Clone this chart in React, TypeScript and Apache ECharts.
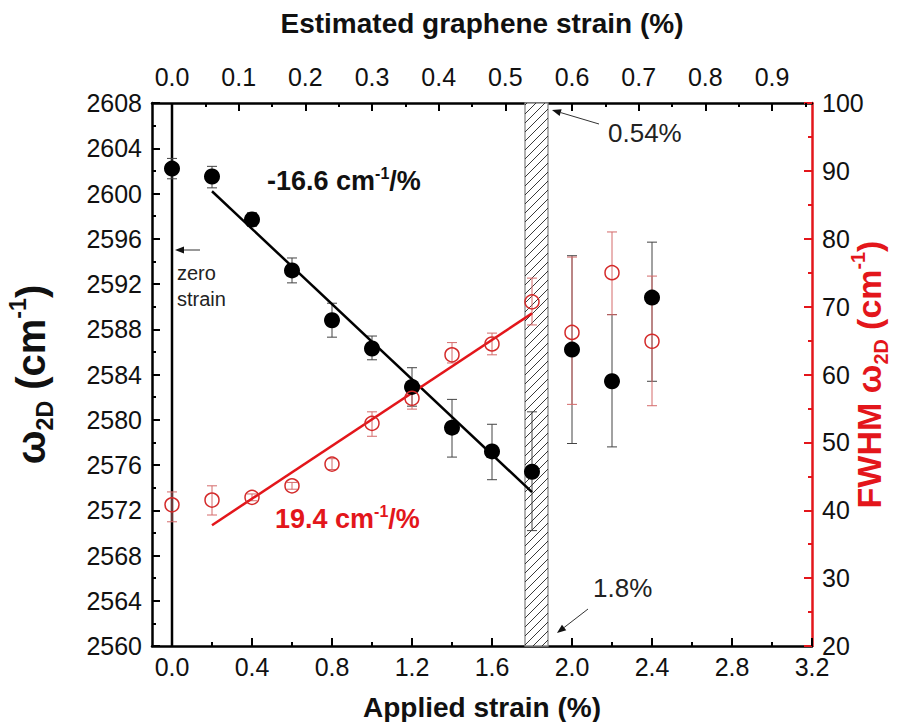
import React, { useEffect, useRef } from "react";
import * as echarts from "echarts";

// ---- data ----
const strainApplied = [0, 0.2, 0.4, 0.6, 0.8, 1.0, 1.2, 1.4, 1.6, 1.8, 2.0, 2.2, 2.4];
const omega2D = [2602.2, 2601.5, 2597.7, 2593.2, 2588.8, 2586.3, 2582.9, 2579.3, 2577.2, 2575.4, 2586.2, 2583.4, 2590.8];
const omegaLow = [2601.3, 2600.5, 2597.1, 2592.1, 2587.3, 2585.3, 2581.2, 2576.7, 2574.7, 2570.2, 2577.9, 2577.6, 2583.4];
const omegaHigh = [2603.1, 2602.4, 2598.3, 2594.3, 2590.3, 2587.4, 2584.6, 2581.8, 2579.6, 2580.7, 2594.5, 2589.3, 2595.7];
const fwhm2D = [40.8, 41.5, 41.9, 43.6, 46.8, 52.8, 56.5, 62.9, 64.5, 70.7, 66.2, 75.0, 64.9];
const fwhmLow = [38.3, 39.3, 41.4, 43.1, 46.0, 50.9, 54.9, 61.7, 62.9, 67.3, 55.6, 68.8, 55.4];
const fwhmHigh = [42.7, 43.6, 42.4, 44.1, 47.6, 54.5, 58.1, 64.7, 66.1, 74.2, 77.3, 81.0, 74.5];
const fitOmegaX = [0.2, 1.8];
const fitOmegaY = [2600.2, 2573.6];
const fitFwhmX = [0.2, 1.8];
const fitFwhmY = [37.8, 69.0];
const zeroStrainX = [0, 0];
const zeroStrainY = [2560, 2608];
const bandRange = [1.765, 1.88];

const bottomTicks = [0, 0.4, 0.8, 1.2, 1.6, 2.0, 2.4, 2.8, 3.2];
const bottomMinorTicks = [0.2, 0.6, 1.0, 1.4, 1.8, 2.2, 2.6, 3.0];
const topTicks = [0, 0.1, 0.2, 0.3, 0.4, 0.5, 0.6, 0.7, 0.8, 0.9];
const topMinorTicks = [0.05, 0.15, 0.25, 0.35, 0.45, 0.55, 0.65, 0.75, 0.85, 0.95];

const X_MIN = -0.1;
const X_MAX = 3.2;
const TOP_RATIO = 0.3;
const Y_MIN = 2560;
const Y_MAX = 2608;

const RED = "#e3161b";
const FONT = "'Liberation Sans', Arial, sans-serif";

function errorBarRenderer(color: string, cap: number) {
  return (params: any, api: any) => {
    const x = api.value(0);
    const lo = api.value(1);
    const hi = api.value(2);
    const a = api.coord([x, lo]);
    const b = api.coord([x, hi]);
    const st = { stroke: color, lineWidth: 1 };
    return {
      type: "group",
      children: [
        { type: "line", shape: { x1: a[0], y1: a[1], x2: b[0], y2: b[1] }, style: st },
        { type: "line", shape: { x1: a[0] - cap, y1: a[1], x2: a[0] + cap, y2: a[1] }, style: st },
        { type: "line", shape: { x1: b[0] - cap, y1: b[1], x2: b[0] + cap, y2: b[1] }, style: st },
      ],
    };
  };
}

function bandRenderer(params: any, api: any) {
  const x0 = api.value(0);
  const x1 = api.value(1);
  const tl = api.coord([x0, Y_MAX]);
  const br = api.coord([x1, Y_MIN]);
  const left = tl[0], top = tl[1], right = br[0], bottom = br[1];
  const w = right - left;
  const children: any[] = [
    {
      type: "rect",
      shape: { x: left, y: top, width: w, height: bottom - top },
      style: { fill: "#fff", stroke: "#8a8a8a", lineWidth: 1.3 },
    },
  ];
  const step = 9;
  for (let b = top + 2; b < bottom + w; b += step) {
    let sx = left, sy = b, ex = right, ey = b - w;
    if (sy > bottom) { sx = left + (sy - bottom); sy = bottom; }
    if (ey < top) { ex = left + (b - top); ey = top; }
    if (sx >= ex) continue;
    children.push({
      type: "line",
      shape: { x1: sx, y1: sy, x2: ex, y2: ey },
      style: { stroke: "#222", lineWidth: 0.9 },
    });
  }
  return { type: "group", children };
}

function arrow(x1: number, y1: number, x2: number, y2: number) {
  const ang = Math.atan2(y2 - y1, x2 - x1);
  const L = 9, W = 3.5;
  const bx = x2 - L * Math.cos(ang), by = y2 - L * Math.sin(ang);
  const px = -Math.sin(ang) * W, py = Math.cos(ang) * W;
  return [
    { type: "line", shape: { x1, y1, x2: bx, y2: by }, style: { stroke: "#333", lineWidth: 1 } },
    {
      type: "polygon",
      shape: { points: [[x2, y2], [bx + px, by + py], [bx - px, by - py]] },
      style: { fill: "#111" },
    },
  ];
}

export default function App() {
  const ref = useRef<HTMLDivElement>(null);
  useEffect(() => {
    if (!ref.current) return;
    const chart = echarts.init(ref.current, undefined, { renderer: "svg" });

    const tickLabel = { color: "#111", fontSize: 25, fontFamily: FONT };
    const mkRich = (size: number, color: string) => ({
      n: { fontSize: size, fontWeight: "bold", fontFamily: FONT, lineHeight: size * 1.25, color },
      sub: { fontSize: size * 0.58, fontWeight: "bold", fontFamily: FONT, lineHeight: size * 0.58, verticalAlign: "bottom", color },
      sup: { fontSize: size * 0.58, fontWeight: "bold", fontFamily: FONT, lineHeight: size * 0.58, verticalAlign: "top", color },
    });

    const option: any = {
      animation: false,
      backgroundColor: "#fff",
      grid: { left: 152, right: 87, top: 103, bottom: 76, containLabel: false, outerBoundsMode: "none" },
      xAxis: [
        {
          type: "value",
          position: "bottom",
          min: X_MIN,
          max: X_MAX,
          name: "Applied strain (%)",
          nameLocation: "middle",
          nameGap: 47,
          nameMoveOverlap: false,
          nameTextStyle: { fontSize: 28, fontWeight: "bold", fontFamily: FONT, color: "#111" },
          axisLine: { show: true, onZero: false, lineStyle: { color: "#000", width: 2.5 } },
          axisTick: { show: true, inside: true, length: 8, customValues: bottomTicks, lineStyle: { color: "#000", width: 2 } },
          axisLabel: { ...tickLabel, margin: 8, customValues: bottomTicks, formatter: (v: number) => v.toFixed(1) },
          splitLine: { show: false },
        },
        {
          type: "value",
          position: "bottom",
          min: X_MIN,
          max: X_MAX,
          axisLine: { show: false, onZero: false },
          axisTick: { show: true, inside: true, length: 4, customValues: bottomMinorTicks, lineStyle: { color: "#000", width: 2 } },
          axisLabel: { show: false },
          splitLine: { show: false },
        },
        {
          type: "value",
          position: "top",
          min: X_MIN * TOP_RATIO,
          max: X_MAX * TOP_RATIO,
          name: "Estimated graphene strain (%)",
          nameLocation: "middle",
          nameGap: 66,
          nameMoveOverlap: false,
          nameTextStyle: { fontSize: 28, fontWeight: "bold", fontFamily: FONT, color: "#111" },
          axisLine: { show: true, onZero: false, lineStyle: { color: "#000", width: 2.5 } },
          axisTick: { show: true, inside: true, length: 8, customValues: topTicks, lineStyle: { color: "#000", width: 2 } },
          axisLabel: { ...tickLabel, margin: 14, customValues: topTicks, formatter: (v: number) => v.toFixed(1) },
          splitLine: { show: false },
        },
        {
          type: "value",
          position: "top",
          min: X_MIN * TOP_RATIO,
          max: X_MAX * TOP_RATIO,
          axisLine: { show: false, onZero: false },
          axisTick: { show: true, inside: true, length: 4, customValues: topMinorTicks, lineStyle: { color: "#000", width: 2 } },
          axisLabel: { show: false },
          splitLine: { show: false },
        },
      ],
      yAxis: [
        {
          type: "value",
          position: "left",
          min: Y_MIN,
          max: Y_MAX,
          interval: 4,
          name: "{n|ω}{sub|2D}{n| (cm}{sup|-1}{n|)}",
          nameLocation: "middle",
          nameRotate: 90,
          nameGap: 96,
          nameMoveOverlap: false,
          nameTextStyle: { color: "#111", rich: mkRich(40, "#111") },
          axisLine: { show: true, onZero: false, lineStyle: { color: "#000", width: 2.5 } },
          axisTick: { show: true, inside: true, length: 8, lineStyle: { color: "#000", width: 2 } },
          minorTick: { show: true, splitNumber: 2, length: 4, lineStyle: { color: "#000", width: 2 } },
          axisLabel: { ...tickLabel, margin: 10, formatter: (v: number) => String(v) },
          splitLine: { show: false },
        },
        {
          type: "value",
          position: "right",
          min: 20,
          max: 100,
          interval: 10,
          name: "{n|FWHM ω}{sub|2D}{n| (cm}{sup|-1}{n|)}",
          nameLocation: "middle",
          nameRotate: 90,
          nameGap: 36,
          nameMoveOverlap: false,
          nameTextStyle: { color: RED, rich: mkRich(34, RED) },
          axisLine: { show: true, onZero: false, lineStyle: { color: RED, width: 2.5 } },
          axisTick: { show: true, inside: true, length: 8, lineStyle: { color: RED, width: 2 } },
          minorTick: { show: true, splitNumber: 2, length: 4, lineStyle: { color: RED, width: 2 } },
          axisLabel: { ...tickLabel, margin: 10, formatter: (v: number) => String(v) },
          splitLine: { show: false },
        },
      ],
      series: [
        {
          type: "custom",
          name: "band",
          xAxisIndex: 0,
          yAxisIndex: 0,
          z: 1,
          renderItem: bandRenderer,
          data: [[bandRange[0], bandRange[1]]],
          silent: true,
        },
        {
          type: "line",
          name: "zero strain",
          xAxisIndex: 0,
          yAxisIndex: 0,
          z: 2,
          symbol: "none",
          lineStyle: { color: "#000", width: 2.5 },
          data: zeroStrainX.map((x, i) => [x, zeroStrainY[i]]),
        },
        {
          type: "custom",
          name: "omega err",
          xAxisIndex: 0,
          yAxisIndex: 0,
          z: 3,
          renderItem: errorBarRenderer("#444", 5),
          data: strainApplied.map((x, i) => [x, omegaLow[i], omegaHigh[i]]),
        },
        {
          type: "custom",
          name: "fwhm err",
          xAxisIndex: 0,
          yAxisIndex: 1,
          z: 3,
          renderItem: errorBarRenderer("#d46a6a", 5),
          data: strainApplied.map((x, i) => [x, fwhmLow[i], fwhmHigh[i]]),
        },
        {
          type: "line",
          name: "omega fit",
          xAxisIndex: 0,
          yAxisIndex: 0,
          z: 4,
          symbol: "none",
          lineStyle: { color: "#000", width: 2.5 },
          data: fitOmegaX.map((x, i) => [x, fitOmegaY[i]]),
        },
        {
          type: "line",
          name: "fwhm fit",
          xAxisIndex: 0,
          yAxisIndex: 1,
          z: 4,
          symbol: "none",
          lineStyle: { color: RED, width: 2.5 },
          data: fitFwhmX.map((x, i) => [x, fitFwhmY[i]]),
        },
        {
          type: "scatter",
          name: "omega",
          xAxisIndex: 0,
          yAxisIndex: 0,
          z: 5,
          symbol: "circle",
          symbolSize: 16,
          itemStyle: { color: "#000", opacity: 1 },
          data: strainApplied.map((x, i) => [x, omega2D[i]]),
        },
        {
          type: "scatter",
          name: "fwhm",
          xAxisIndex: 0,
          yAxisIndex: 1,
          z: 5,
          symbol: "circle",
          symbolSize: 14,
          itemStyle: { color: "rgba(255,255,255,0)", borderColor: "#d42a2a", borderWidth: 1.5, opacity: 1 },
          data: strainApplied.map((x, i) => [x, fwhm2D[i]]),
        },
      ],
      graphic: [
        {
          type: "text",
          x: 267,
          y: 181,
          style: {
            text: "{b|-16.6 cm}{s|-1}{b|/%}",
            verticalAlign: "middle",
            rich: {
              b: { fontSize: 27, fontWeight: "bold", fontFamily: FONT, fill: "#111", lineHeight: 32 },
              s: { fontSize: 16, fontWeight: "bold", fontFamily: FONT, fill: "#111", lineHeight: 16, verticalAlign: "top" },
            },
          },
        },
        {
          type: "text",
          x: 275,
          y: 519,
          style: {
            text: "{b|19.4 cm}{s|-1}{b|/%}",
            verticalAlign: "middle",
            rich: {
              b: { fontSize: 27, fontWeight: "bold", fontFamily: FONT, fill: RED, lineHeight: 32 },
              s: { fontSize: 16, fontWeight: "bold", fontFamily: FONT, fill: RED, lineHeight: 16, verticalAlign: "top" },
            },
          },
        },
        {
          type: "text",
          x: 177,
          y: 273,
          style: { text: "zero", fontSize: 20, fontFamily: FONT, fill: "#222", verticalAlign: "middle" },
        },
        {
          type: "text",
          x: 177,
          y: 299,
          style: { text: "strain", fontSize: 20, fontFamily: FONT, fill: "#222", verticalAlign: "middle" },
        },
        {
          type: "text",
          x: 608,
          y: 133,
          style: { text: "0.54%", fontSize: 26, fontFamily: FONT, fill: "#222", verticalAlign: "middle" },
        },
        {
          type: "text",
          x: 593,
          y: 588,
          style: { text: "1.8%", fontSize: 26, fontFamily: FONT, fill: "#222", verticalAlign: "middle" },
        },
        ...arrow(200, 250, 175, 250),
        ...arrow(599, 124, 552, 110),
        ...arrow(588, 609, 557, 633),
      ],
    };

    chart.setOption(option);
    return () => chart.dispose();
  }, []);

  return (
    <div
      ref={ref}
      style={{ position: "fixed", left: 0, top: 0, width: 899, height: 722, background: "#fff" }}
    />
  );
}
